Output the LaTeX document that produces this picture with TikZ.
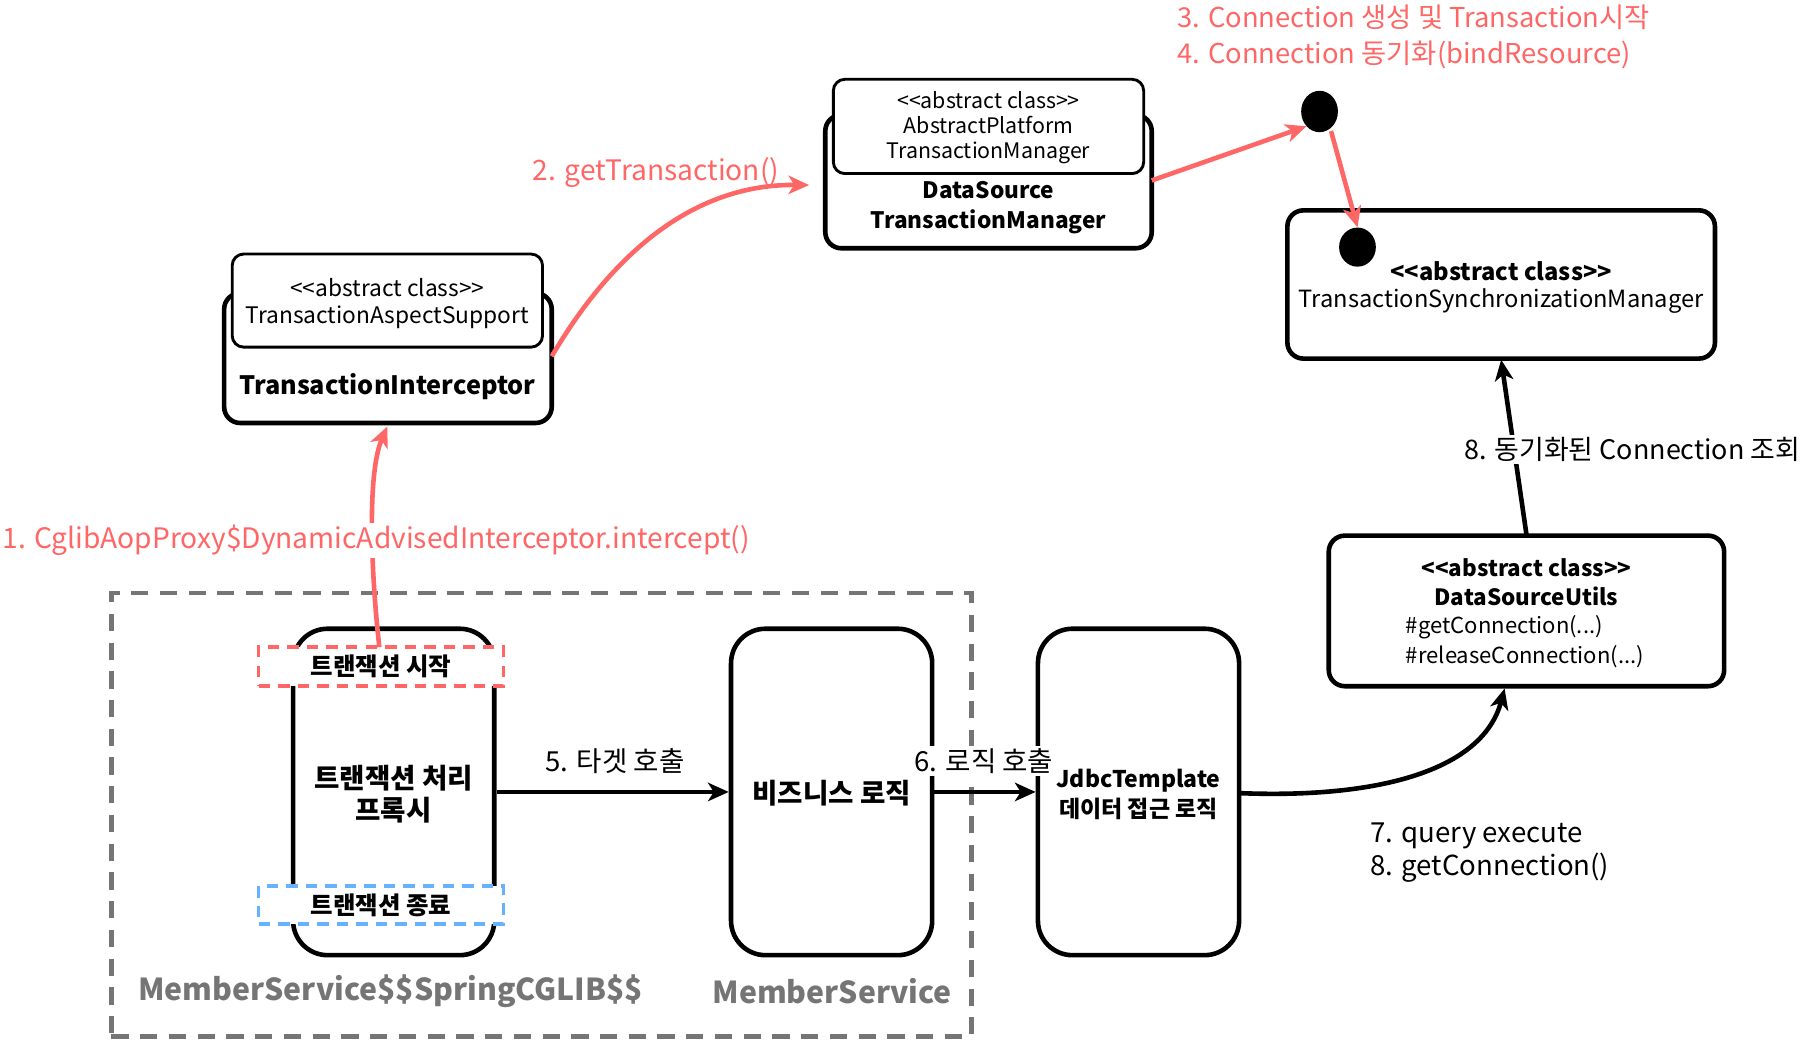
\documentclass[tikz,border=0pt]{standalone}
\usepackage{fontspec}
\setmainfont{Noto Sans CJK KR}
\usetikzlibrary{arrows.meta,shapes.geometric}
\definecolor{sred}{HTML}{FF6666}
\definecolor{sblue}{HTML}{66B2FF}
\definecolor{sgray}{HTML}{757575}
\begin{document}
\begin{tikzpicture}[x=1pt,y=-1pt,
  box/.style={draw=black, line width=4pt, rounded corners=14pt, fill=white, inner sep=0pt},
  tallbox/.style={draw=black, line width=4pt, rounded corners=30pt, fill=white, inner sep=0pt, minimum width=175pt, minimum height=284pt},
  innerbox/.style={draw=black, line width=2.5pt, rounded corners=10pt, fill=white, inner sep=0pt},
  txt/.style={inner sep=1pt, align=center, font=\fontsize{19.8}{24}\selectfont},
  btxt/.style={inner sep=1pt, align=center, font=\fontsize{22}{26}\selectfont\bfseries},
  rlabel/.style={text=sred, inner sep=2pt, font=\fontsize{24.5}{31}\selectfont},
  blabel/.style={text=black, inner sep=2pt, font=\fontsize{24}{29}\selectfont},
  glabel/.style={text=sgray, inner sep=1pt, font=\fontsize{26.3}{30}\selectfont\bfseries},
  redarrow/.style={draw=sred, line width=4pt, -{Stealth[length=18pt,width=16pt,inset=5pt]}},
  blackarrow/.style={draw=black, line width=4pt, -{Stealth[length=18pt,width=16pt,inset=5pt]}},
  dashbox/.style={line width=3pt, dash pattern=on 10pt off 7pt, fill=white, inner sep=0pt, minimum width=213pt, minimum height=34pt},
  dot/.style={fill=black, ellipse, inner sep=0pt}
]
\useasboundingbox (0,0) rectangle (1566,904);

% group frame
\node[draw=sgray, line width=4pt, dash pattern=on 15pt off 10pt, minimum width=748pt, minimum height=386pt, inner sep=0pt] (frame) at (471,709) {};

% TransactionInterceptor
\node[box, minimum width=285pt, minimum height=113pt] (ti) at (337.5,311.5) {};
\node[innerbox, minimum width=270pt, minimum height=81pt] (tas) at (337,261.5) {};
\node[txt] (tastxt) at (337,264) {<{}<abstract class>{}>\\TransactionAspectSupport};
\node[btxt] (titxt) at (337,336) {TransactionInterceptor};

% DataSourceTransactionManager
\node[box, minimum width=284pt, minimum height=116pt] (dstm) at (860,158) {};
\node[innerbox, minimum width=270pt, minimum height=82pt] (aptm) at (860,110) {};
\node[txt, font=\fontsize{18.6}{22}\selectfont] (aptmtxt) at (860,111) {<{}<abstract class>{}>\\AbstractPlatform\\TransactionManager};
\node[btxt, font=\fontsize{19.7}{26}\selectfont\bfseries] (dstmtxt) at (860,181) {DataSource\\TransactionManager};

% TransactionSynchronizationManager
\node[box, minimum width=372pt, minimum height=129pt] (tsm) at (1306,247.5) {};
\node[txt, font=\fontsize{20.6}{24}\selectfont] (tsmtxt) at (1306,250) {\textbf{<{}<abstract class>{}>}\\TransactionSynchronizationManager};

% DataSourceUtils
\node[box, minimum width=344pt, minimum height=131pt] (dsu) at (1328,531.5) {};
\node[txt, font=\fontsize{19.5}{25}\selectfont\bfseries] (dsutxt) at (1328,506.5) {<{}<abstract class>{}>\\DataSourceUtils};
\node[txt, align=left, anchor=west, font=\fontsize{19.2}{26}\selectfont] (dsumeth) at (1222,558) {\#getConnection(...)\\\#releaseConnection(...)};

% dots
\node[dot, minimum width=32pt, minimum height=36pt] (dot1) at (1148,97) {};
\node[dot, minimum width=32pt, minimum height=34pt] (dot2) at (1181,215) {};

% bottom boxes
\node[tallbox] (proxy) at (342.5,689) {};
\node[btxt, font=\fontsize{24}{28}\selectfont\bfseries] (proxytxt) at (342.5,691) {트랜잭션 처리\\프록시};
\node[dashbox, draw=sred] (start) at (331.5,580) {};
\node[txt, font=\fontsize{21.3}{24}\selectfont\bfseries] (starttxt) at (331.5,580) {트랜잭션 시작};
\node[dashbox, draw=sblue, minimum height=33pt] (end) at (331.5,787.5) {};
\node[txt, font=\fontsize{21.3}{24}\selectfont\bfseries] (endtxt) at (331.5,788) {트랜잭션 종료};

\node[tallbox] (biz) at (723.5,689) {};
\node[btxt, font=\fontsize{24}{28}\selectfont\bfseries] (biztxt) at (723.5,690) {비즈니스 로직};

\node[tallbox] (jdbc) at (990.5,689) {};
\node[btxt, font=\fontsize{20}{26}\selectfont\bfseries] (jdbctxt) at (990.5,691) {JdbcTemplate\\데이터 접근 로직};

% group labels
\node[glabel] (cglib) at (340,862) {MemberService\$\$SpringCGLIB\$\$};
\node[glabel] (ms) at (724,862) {MemberService};

% connectors
\coordinate (a1s) at (330,563);
\coordinate (a1e) at (337,371);
\draw[redarrow] (a1s) .. controls (322,490) and (320,410) .. (a1e);
\node[rlabel, fill=white, anchor=west] (l1) at (0,470) {1. CglibAopProxy\$DynamicAdvisedInterceptor.intercept()};

\coordinate (a2s) at (480,310);
\coordinate (a2e) at (704,161);
\draw[redarrow] (a2s) .. controls (530,225) and (600,160) .. (a2e);
\node[rlabel, anchor=east] (l2) at (680,150) {2. getTransaction()};

\coordinate (a3s) at (1002,157);
\draw[redarrow] (a3s) -- (dot1.south west);
\coordinate (a4s) at (1158,114);
\draw[redarrow] (a4s) -- (dot2.north);
\node[rlabel, anchor=west, align=left, font=\fontsize{23.8}{31}\selectfont] (l34) at (1022,32) {3. Connection 생성 및 Transaction시작\\4. Connection 동기화(bindResource)};

\draw[blackarrow] (proxy.east) -- (biz.west);
\node[blabel] (l5) at (535,662) {5. 타겟 호출};
\draw[blackarrow] (biz.east) -- (jdbc.west);
\node[blabel, fill=white] (l6) at (856,662) {6. 로직 호출};

\coordinate (a7s) at (1078,690);
\coordinate (a7e) at (1309,599);
\draw[blackarrow] (a7s) .. controls (1200,695) and (1290,670) .. (a7e);
\node[blabel, anchor=west, align=left] (l7) at (1190,742) {7. query execute\\8. getConnection()};

\coordinate (a8s) at (1328,465);
\coordinate (a8e) at (1306,313);
\draw[blackarrow] (a8s) -- (a8e);
\node[blabel, fill=white, font=\fontsize{23.4}{29}\selectfont] (l8) at (1420,391) {8. 동기화된 Connection 조회};
\end{tikzpicture}
\end{document}
